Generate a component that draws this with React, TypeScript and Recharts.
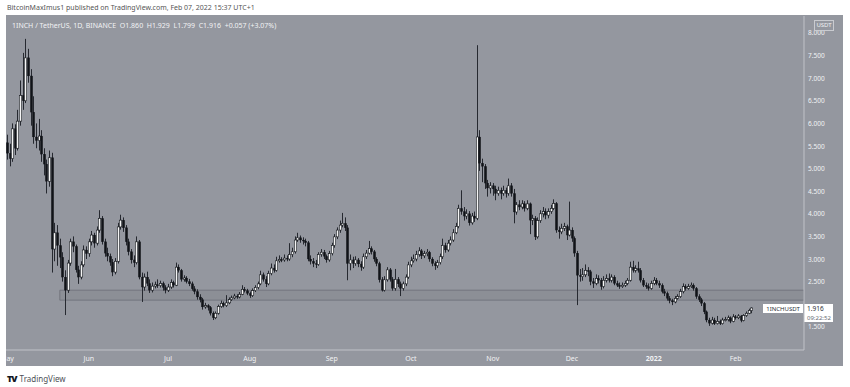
import { Bar, ComposedChart, ReferenceArea, ReferenceLine, XAxis, YAxis } from "recharts";

// [high, low, close] per daily candle; open is the previous close
type Row = [number, number, number];

const FIRST_OPEN = 5.57;

const MAY: Row[] = [
	[5.75, 5.2, 5.34], [5.55, 5.05, 5.22], [6.0, 5.15, 5.88], [5.98, 5.3, 5.45], [6.3, 5.4, 6.05],
	[6.95, 5.95, 6.62], [7.56, 6.3, 6.5], [7.87, 6.45, 7.45], [7.65, 6.9, 7.05], [7.2, 5.95, 6.25],
	[6.6, 5.55, 5.7], [6.0, 5.45, 5.62], [6.1, 5.4, 5.72], [5.85, 5.15, 5.32], [5.45, 4.85, 5.1],
	[5.2, 4.45, 4.72], [5.4, 4.6, 5.24], [5.35, 2.7, 3.22], [3.8, 2.95, 3.58], [3.75, 2.85, 3.3],
	[3.45, 2.8, 3.04], [3.15, 2.5, 2.6], [2.75, 1.76, 2.31], [2.98, 2.25, 2.91], [3.45, 2.85, 3.38],
	[3.5, 3.15, 3.28], [3.32, 2.7, 2.76], [2.85, 2.45, 2.6], [2.95, 2.55, 2.87], [3.3, 2.82, 3.2],
	[3.28, 3.0, 3.12],
];
const JUN: Row[] = [
	[3.45, 3.05, 3.38], [3.62, 3.3, 3.53], [3.58, 3.25, 3.35], [3.72, 3.3, 3.64], [4.08, 3.58, 3.9],
	[3.95, 3.32, 3.38], [3.45, 3.05, 3.13], [3.25, 2.95, 3.06], [3.12, 2.85, 2.93], [3.0, 2.62, 2.71],
	[3.02, 2.66, 2.95], [3.8, 2.9, 3.71], [3.98, 3.65, 3.86], [3.92, 3.6, 3.69], [3.75, 3.3, 3.38],
	[3.45, 3.08, 3.16], [3.22, 2.9, 2.98], [3.08, 2.82, 2.92], [3.5, 2.88, 3.38], [3.42, 2.55, 2.6],
	[2.7, 2.05, 2.38], [2.68, 2.3, 2.6], [2.72, 2.4, 2.46], [2.55, 2.25, 2.31], [2.48, 2.26, 2.4],
	[2.5, 2.35, 2.43], [2.55, 2.36, 2.41], [2.52, 2.37, 2.46], [2.5, 2.3, 2.37], [2.42, 2.24, 2.31],
];
const JUL: Row[] = [
	[2.45, 2.27, 2.38], [2.55, 2.34, 2.48], [2.52, 2.37, 2.42], [2.92, 2.4, 2.82], [2.88, 2.7, 2.75],
	[2.78, 2.5, 2.55], [2.64, 2.5, 2.58], [2.62, 2.46, 2.5], [2.56, 2.4, 2.45], [2.5, 2.3, 2.34],
	[2.4, 2.22, 2.28], [2.33, 2.1, 2.16], [2.22, 2.04, 2.1], [2.14, 1.88, 1.94], [2.03, 1.9, 1.97],
	[2.0, 1.86, 1.93], [1.96, 1.75, 1.8], [1.84, 1.65, 1.7], [1.84, 1.67, 1.8], [1.99, 1.77, 1.95],
	[2.08, 1.92, 2.02], [2.06, 1.93, 1.97], [2.2, 1.94, 2.03], [2.15, 2.0, 2.1], [2.19, 2.07, 2.14],
	[2.23, 2.11, 2.18], [2.22, 2.12, 2.16], [2.27, 2.13, 2.22], [2.42, 2.2, 2.33], [2.38, 2.26, 2.3],
	[2.34, 2.2, 2.24],
];
const AUG: Row[] = [
	[2.28, 2.14, 2.19], [2.35, 2.16, 2.3], [2.42, 2.27, 2.37], [2.5, 2.33, 2.45], [2.74, 2.42, 2.65],
	[2.7, 2.5, 2.55], [2.62, 2.38, 2.45], [2.74, 2.42, 2.68], [2.9, 2.64, 2.8], [2.88, 2.7, 2.75],
	[3.05, 2.72, 2.96], [3.08, 2.92, 2.99], [3.04, 2.93, 2.98], [3.1, 2.94, 3.02], [3.08, 2.95, 3.0],
	[3.35, 2.96, 3.1], [3.25, 3.04, 3.16], [3.5, 3.12, 3.42], [3.58, 3.38, 3.47], [3.52, 3.36, 3.42],
	[3.48, 3.32, 3.4], [3.45, 3.28, 3.36], [3.4, 2.95, 3.0], [3.08, 2.88, 2.95], [3.02, 2.82, 2.9],
	[2.98, 2.8, 2.88], [3.15, 2.85, 3.1], [3.22, 3.05, 3.15], [3.2, 3.0, 3.06], [3.1, 2.92, 2.98],
	[3.18, 2.94, 3.12],
];
const SEP: Row[] = [
	[3.36, 3.08, 3.3], [3.55, 3.25, 3.49], [3.7, 3.44, 3.64], [3.85, 3.58, 3.75], [4.02, 3.7, 3.79],
	[3.92, 3.62, 3.69], [3.75, 2.53, 2.9], [3.1, 2.75, 2.98], [3.05, 2.8, 2.9], [3.06, 2.85, 2.98],
	[3.02, 2.82, 2.89], [2.95, 2.74, 2.82], [3.12, 2.78, 3.05], [3.2, 3.0, 3.13], [3.4, 3.1, 3.23],
	[3.28, 3.1, 3.16], [3.2, 2.94, 3.0], [3.04, 2.84, 2.9], [2.94, 2.48, 2.54], [2.6, 2.28, 2.31],
	[2.62, 2.28, 2.54], [2.82, 2.5, 2.76], [2.8, 2.5, 2.55], [2.6, 2.3, 2.35], [2.78, 2.3, 2.55],
	[2.6, 2.38, 2.45], [2.5, 2.18, 2.35], [2.5, 2.3, 2.45], [2.66, 2.4, 2.6], [2.94, 2.56, 2.87],
];
const OCT: Row[] = [
	[3.05, 2.82, 2.96], [3.1, 2.92, 3.0], [3.18, 2.95, 3.1], [3.26, 3.05, 3.18], [3.22, 3.0, 3.07],
	[3.18, 3.02, 3.12], [3.22, 3.06, 3.15], [3.18, 2.94, 3.0], [3.04, 2.84, 2.9], [2.95, 2.76, 2.85],
	[2.98, 2.8, 2.92], [3.12, 2.88, 3.05], [3.45, 3.0, 3.3], [3.36, 3.14, 3.2], [3.42, 3.16, 3.35],
	[3.5, 3.3, 3.42], [3.66, 3.38, 3.58], [3.8, 3.55, 3.72], [4.2, 3.68, 4.12], [4.52, 3.98, 4.05],
	[4.15, 3.85, 3.95], [4.1, 3.88, 4.0], [4.06, 3.74, 3.8], [4.02, 3.76, 3.95], [4.05, 3.82, 3.9],
	[7.73, 3.86, 5.7], [5.85, 4.95, 5.12], [5.22, 4.7, 5.05], [5.1, 4.55, 4.68], [4.75, 4.38, 4.57],
	[4.7, 4.45, 4.62],
];
const NOV: Row[] = [
	[4.68, 4.4, 4.55], [4.62, 4.3, 4.45], [4.6, 4.4, 4.52], [4.58, 4.32, 4.45], [4.62, 4.4, 4.52],
	[4.58, 4.36, 4.45], [4.78, 4.4, 4.62], [4.68, 4.38, 4.45], [4.55, 3.79, 4.04], [4.26, 3.98, 4.2],
	[4.3, 4.08, 4.15], [4.3, 4.1, 4.22], [4.28, 4.05, 4.12], [4.3, 4.08, 4.22], [4.25, 3.55, 3.86],
	[3.98, 3.75, 3.9], [3.95, 3.42, 3.49], [3.92, 3.45, 3.85], [4.08, 3.8, 4.0], [4.15, 3.92, 4.05],
	[4.12, 3.88, 3.97], [4.12, 3.9, 4.05], [4.2, 4.0, 4.12], [4.32, 4.08, 4.23], [4.26, 3.58, 3.64],
	[3.72, 3.45, 3.6], [3.78, 3.55, 3.68], [3.8, 3.62, 3.72], [3.76, 3.42, 3.53], [4.27, 3.5, 3.64],
];
const DEC: Row[] = [
	[3.7, 3.38, 3.46], [3.5, 3.05, 3.13], [3.18, 1.98, 2.64], [2.78, 2.5, 2.61], [2.8, 2.52, 2.65],
	[2.88, 2.6, 2.75], [2.82, 2.62, 2.72], [2.76, 2.42, 2.5], [2.58, 2.36, 2.46], [2.66, 2.42, 2.57],
	[2.64, 2.46, 2.53], [2.58, 2.32, 2.39], [2.62, 2.35, 2.53], [2.66, 2.48, 2.57], [2.68, 2.48, 2.53],
	[2.66, 2.48, 2.6], [2.64, 2.42, 2.46], [2.52, 2.38, 2.42], [2.48, 2.34, 2.39], [2.48, 2.36, 2.42],
	[2.52, 2.38, 2.46], [2.58, 2.42, 2.53], [2.94, 2.5, 2.82], [2.96, 2.7, 2.75], [2.86, 2.7, 2.79],
	[2.94, 2.7, 2.75], [2.8, 2.48, 2.53], [2.58, 2.38, 2.42], [2.48, 2.34, 2.39], [2.46, 2.3, 2.35],
	[2.52, 2.32, 2.46],
];
const JAN: Row[] = [
	[2.6, 2.42, 2.53], [2.58, 2.42, 2.46], [2.52, 2.36, 2.42], [2.46, 2.24, 2.28], [2.34, 2.18, 2.24],
	[2.28, 2.08, 2.13], [2.18, 2.02, 2.08], [2.12, 1.98, 2.05], [2.18, 2.02, 2.13], [2.22, 2.1, 2.17],
	[2.34, 2.14, 2.28], [2.46, 2.24, 2.39], [2.44, 2.3, 2.35], [2.45, 2.32, 2.39], [2.48, 2.36, 2.42],
	[2.46, 2.3, 2.35], [2.38, 2.12, 2.17], [2.22, 2.05, 2.1], [2.14, 1.96, 2.02], [2.05, 1.78, 1.83],
	[1.86, 1.6, 1.65], [1.7, 1.52, 1.58], [1.72, 1.55, 1.65], [1.7, 1.54, 1.57], [1.74, 1.55, 1.62],
	[1.66, 1.54, 1.57], [1.7, 1.55, 1.65], [1.72, 1.62, 1.66], [1.75, 1.62, 1.7], [1.73, 1.58, 1.62],
	[1.78, 1.6, 1.72],
];
const FEB: Row[] = [
	[1.76, 1.66, 1.7], [1.78, 1.67, 1.74], [1.76, 1.6, 1.64], [1.78, 1.62, 1.75], [1.84, 1.72, 1.8],
	[1.9, 1.78, 1.86], [1.929, 1.799, 1.916],
];

const MONTH_TICKS = [0, 31, 61, 92, 123, 153, 184, 214, 245, 276];
const MONTH_LABELS = ["May", "Jun", "Jul", "Aug", "Sep", "Oct", "Nov", "Dec", "2022", "Feb"];
const PRICE_TICKS = [1.5, 2.5, 3, 3.5, 4, 4.5, 5, 5.5, 6, 6.5, 7, 7.5, 8];
const ZONE_LOW = 2.09;
const ZONE_HIGH = 2.31;
const ZONE_START = 20;
const LAST_PRICE = 1.916;

const BG = "#94979f";
const LINE = "#c0c2c8";
const TEXT = "#f1f2f4";
const UP = "#f5f5f5";
const DOWN = "#101318";
const WICK = "#262930";

const candles: { d: number; open: number; high: number; low: number; close: number; range: [number, number] }[] = [];
let prevClose = FIRST_OPEN;
[MAY, JUN, JUL, AUG, SEP, OCT, NOV, DEC, JAN, FEB].flat().forEach(([high, low, close], i) => {
	candles.push({ d: i, open: prevClose, high, low, close, range: [low, high] });
	prevClose = close;
});

function Candle(props: any) {
	const { x, y, width, height, payload } = props;
	if (!payload || height == null) return null;
	const top = Math.min(y, y + height);
	const h = Math.abs(height);
	const span = payload.high - payload.low || 1;
	const at = (v: number) => top + ((payload.high - v) / span) * h;
	const cx = Math.round(x + width / 2);
	const up = payload.close >= payload.open;
	const b1 = at(Math.max(payload.open, payload.close));
	const b2 = at(Math.min(payload.open, payload.close));
	return (
		<g>
			<line x1={cx + 0.5} x2={cx + 0.5} y1={top} y2={top + h} stroke={WICK} strokeWidth={1} />
			<rect
				x={cx - 0.7}
				y={b1}
				width={2.4}
				height={Math.max(1, b2 - b1)}
				fill={up ? UP : DOWN}
				stroke={DOWN}
				strokeWidth={up ? 0.6 : 0.2}
			/>
		</g>
	);
}

function MonthTick(props: any) {
	const { x, y, payload } = props;
	const label = MONTH_LABELS[MONTH_TICKS.indexOf(payload.value)];
	return (
		<text x={x} y={y + 11} textAnchor="middle" fontSize={7} fill={TEXT} fontWeight={label === "2022" ? 700 : 400}>
			{label}
		</text>
	);
}

function PriceTick(props: any) {
	const { x, y, payload } = props;
	return (
		<text x={x} y={y + 2.5} textAnchor="start" fontSize={6.5} fill={TEXT}>
			{payload.value.toFixed(3)}
		</text>
	);
}

function PriceTag(props: any) {
	const vb = props.viewBox;
	if (!vb) return null;
	const right = vb.x + vb.width;
	const y = vb.y;
	return (
		<g>
			<rect x={right - 41} y={y - 4} width={40} height={9} fill="#ffffff" />
			<text x={right - 21} y={y + 3} textAnchor="middle" fontSize={6} fill="#2b2f38">
				1INCHUSDT
			</text>
			<rect x={right} y={y - 4} width={29} height={18} fill="#ffffff" />
			<text x={right + 3} y={y + 3} fontSize={6.5} fill="#2b2f38">
				{LAST_PRICE.toFixed(3)}
			</text>
			<text x={right + 3} y={y + 11.5} fontSize={6} fill="#6a6d75">
				09:22:52
			</text>
		</g>
	);
}

export default function App() {
	return (
		<div
			style={{
				position: "absolute",
				left: 0,
				top: 0,
				width: 850,
				height: 387,
				background: "#fff",
				fontFamily: "'Noto Sans', sans-serif",
				overflow: "hidden",
			}}
		>
			<div style={{ position: "absolute", left: 7, top: 3, fontSize: 7, color: "#555", whiteSpace: "nowrap" }}>
				BitcoinMaxImus1 published on TradingView.com, Feb 07, 2022 15:37 UTC+1
			</div>
			<div style={{ position: "absolute", left: 6, top: 15, width: 837, height: 351, background: BG }}>
				<ComposedChart width={837} height={351} data={candles} margin={{ top: 1, right: 0, left: 0, bottom: 0 }}>
					<XAxis
						dataKey="d"
						type="number"
						domain={[-0.38, 301.9]}
						allowDataOverflow
						ticks={MONTH_TICKS}
						interval={0}
						height={16}
						tickSize={0}
						tickMargin={0}
						tick={<MonthTick />}
						axisLine={{ stroke: LINE }}
					/>
					<YAxis
						orientation="right"
						type="number"
						domain={[0.987, 8.376]}
						allowDataOverflow
						ticks={PRICE_TICKS}
						interval={0}
						width={39}
						tickSize={0}
						tickMargin={4}
						tick={<PriceTick />}
						axisLine={{ stroke: LINE }}
					/>
					<ReferenceArea
						x1={ZONE_START}
						x2={301.9}
						y1={ZONE_LOW}
						y2={ZONE_HIGH}
						fill="#000000"
						fillOpacity={0.05}
						stroke="#6c6f77"
						strokeWidth={0.8}
						ifOverflow="hidden"
					/>
					<Bar dataKey="range" shape={(p: any) => <Candle {...p} />} isAnimationActive={false} barSize={3} />
					<ReferenceLine y={LAST_PRICE} stroke="none" label={(p: any) => <PriceTag {...p} />} />
				</ComposedChart>
				<div
					style={{
						position: "absolute",
						left: 6,
						top: 6,
						fontSize: 7,
						color: TEXT,
						whiteSpace: "nowrap",
					}}
				>
					1INCH / TetherUS, 1D, BINANCE&nbsp; O1.860 &nbsp;H1.929 &nbsp;L1.799 &nbsp;C1.916 &nbsp;+0.057 (+3.07%)
				</div>
				<div
					style={{
						position: "absolute",
						left: 808,
						top: 5,
						width: 18,
						height: 9,
						border: "1px solid #c9cbd0",
						fontSize: 6,
						lineHeight: "9px",
						textAlign: "center",
						color: TEXT,
					}}
				>
					USDT
				</div>
			</div>
			<div style={{ position: "absolute", left: 7, top: 372, whiteSpace: "nowrap", display: "flex", alignItems: "center", gap: 3 }}>
				<span style={{ fontSize: 9, fontWeight: 900, color: "#131722", letterSpacing: -1 }}>TV</span>
				<span style={{ fontSize: 8, color: "#4d4f55" }}>TradingView</span>
			</div>
		</div>
	);
}
